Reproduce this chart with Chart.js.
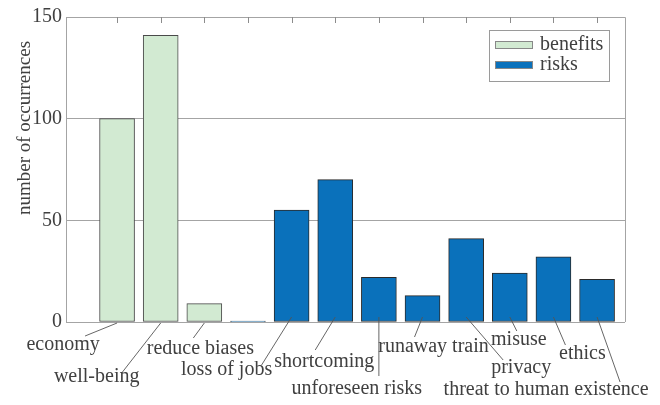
<!DOCTYPE html>
<html>
<head>
<meta charset="utf-8">
<script src="https://cdn.jsdelivr.net/npm/chart.js@4"></script>
<style>
  html, body { margin: 0; padding: 0; background: #fff; }
  #wrap { width: 660px; height: 405px; }
</style>
</head>
<body>
<div id="wrap"><canvas id="occChart" width="660" height="405"></canvas></div>
<script>
// categories in bar order (the empty slot separates benefits from risks)
const categories = ["economy", "well-being", "reduce biases", "", "loss of jobs", "shortcoming",
  "unforeseen risks", "runaway train", "privacy", "misuse", "ethics", "threat to human existence"];
const benefitValues = [100, 141, 9];
const riskValues = [0, 55, 70, 22, 13, 41, 24, 32, 21];
const yTicks = [0, 50, 100, 150];
const seriesNames = ["benefits", "risks"];

// label placement: text centre offset and leader end offset, from bar centre / zero line
const labelLayout = [
  { tx: -54, ty: 23, lx: -32, ly: 14 },
  { tx: -64, ty: 55, lx: -39, ly: 51 },
  { tx: -4, ty: 27, lx: -11, ly: 16 },
  null,
  { tx: -65, ty: 48, lx: -30, ly: 43 },
  { tx: -11, ty: 40, lx: -20, ly: 28 },
  { tx: -22, ty: 67, lx: 0, ly: 54 },
  { tx: 11, ty: 25, lx: -8, ly: 15 },
  { tx: 55, ty: 46, lx: 37, ly: 38 },
  { tx: 9, ty: 18, lx: 7, ly: 9 },
  { tx: 29, ty: 32, lx: 12, ly: 23 },
  { tx: -51, ty: 68, lx: 23, ly: 60 },
];

const greenFill = "#d2ead2";
const blueFill = "#0a71bb";
const textColor = "#404040";
const axisColor = "#a4a4a4";
const serif = "'Liberation Serif', 'DejaVu Serif', serif";

const benefitPoints = benefitValues.map((v, i) => ({ x: i, y: v }));
const riskPoints = riskValues.map((v, i) => ({ x: i + benefitValues.length, y: v }));

const decorPlugin = {
  id: "decor",
  afterDraw(chart) {
    const { ctx, chartArea: area, scales } = chart;
    const xs = scales.x, ys = scales.y;
    ctx.save();

    // top and right box lines
    ctx.strokeStyle = axisColor;
    ctx.lineWidth = 1;
    ctx.beginPath();
    ctx.moveTo(area.left, area.top + 0.5);
    ctx.lineTo(area.right + 0.5, area.top + 0.5);
    ctx.lineTo(area.right + 0.5, area.bottom);
    ctx.stroke();

    // tick marks along the top
    ctx.strokeStyle = "#8c8c8c";
    categories.forEach((c, i) => {
      const px = Math.round(xs.getPixelForValue(i)) + 0.5;
      ctx.beginPath();
      ctx.moveTo(px, area.top);
      ctx.lineTo(px, area.top + 6);
      ctx.stroke();
    });

    // category labels with leader lines
    const y0 = ys.getPixelForValue(0);
    ctx.font = "20px " + serif;
    ctx.textAlign = "center";
    ctx.textBaseline = "middle";
    categories.forEach((c, i) => {
      const lay = labelLayout[i];
      if (!lay || !c) return;
      const cx = xs.getPixelForValue(i);
      const startY = i < benefitValues.length ? y0 + 1 : y0 - 5;
      ctx.strokeStyle = "#555";
      ctx.lineWidth = 0.9;
      ctx.beginPath();
      ctx.moveTo(cx, startY);
      ctx.lineTo(cx + lay.lx, y0 + lay.ly);
      ctx.stroke();
      ctx.fillStyle = textColor;
      ctx.fillText(c, cx + lay.tx, y0 + lay.ty);
    });

    // legend box
    const lgX = 489, lgY = 30, lgW = 120, lgH = 51;
    ctx.fillStyle = "#fff";
    ctx.fillRect(lgX, lgY, lgW, lgH);
    ctx.strokeStyle = "#9a9a9a";
    ctx.lineWidth = 1;
    ctx.strokeRect(lgX + 0.5, lgY + 0.5, lgW, lgH);
    chart.data.datasets.forEach((ds, k) => {
      const cy = lgY + 15 + k * 20;
      ctx.fillStyle = ds.backgroundColor;
      ctx.fillRect(lgX + 6, cy - 4, 38, 8);
      ctx.strokeStyle = "#888";
      ctx.strokeRect(lgX + 6.5, cy - 3.5, 37, 7);
      ctx.fillStyle = textColor;
      ctx.textAlign = "left";
      ctx.textBaseline = "middle";
      ctx.font = "20px " + serif;
      ctx.fillText(ds.label, lgX + 51, cy);
    });

    // y axis title
    ctx.translate(30, 128);
    ctx.rotate(-Math.PI / 2);
    ctx.font = "19px " + serif;
    ctx.textAlign = "center";
    ctx.textBaseline = "alphabetic";
    ctx.fillStyle = textColor;
    ctx.fillText("number of occurrences", 0, 0);
    ctx.restore();
  },
};

const ctx = document.getElementById("occChart").getContext("2d");
new Chart(ctx, {
  type: "bar",
  data: {
    datasets: [
      {
        label: seriesNames[0],
        data: benefitPoints,
        backgroundColor: greenFill,
        borderColor: "#4a4a4a",
        borderWidth: 1,
        borderSkipped: false,
        barThickness: 35,
        grouped: false,
      },
      {
        label: seriesNames[1],
        data: riskPoints,
        backgroundColor: blueFill,
        borderColor: "#2a2a2a",
        borderWidth: 1,
        borderSkipped: false,
        barThickness: 35,
        minBarLength: 1,
        grouped: false,
      },
    ],
  },
  options: {
    responsive: false,
    animation: false,
    layout: { padding: { left: 0, top: 17, right: 35, bottom: 83 } },
    plugins: { legend: { display: false }, tooltip: { enabled: false } },
    scales: {
      x: {
        type: "linear",
        min: -1.17,
        max: 11.64,
        offset: false,
        display: false,
      },
      y: {
        min: 0,
        max: 150,
        afterBuildTicks: (scale) => {
          scale.ticks = yTicks.map((v) => ({ value: v }));
        },
        afterFit: (scale) => {
          scale.width = 66;
        },
        grid: { color: axisColor, drawTicks: false },
        border: { color: axisColor },
        ticks: {
          padding: 4,
          color: textColor,
          font: { family: serif, size: 20 },
        },
      },
    },
  },
  plugins: [decorPlugin],
});
</script>
</body>
</html>
